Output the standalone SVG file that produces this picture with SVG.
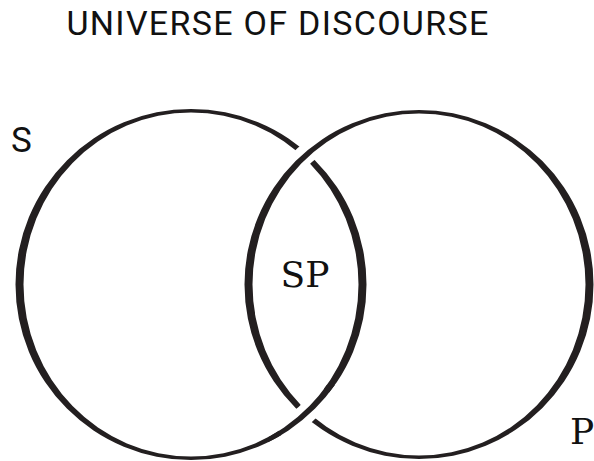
<svg xmlns="http://www.w3.org/2000/svg" width="594" height="461" viewBox="0 0 594 461">
  <style>
    .ring { fill: #231f20; fill-rule: evenodd; }
    .halo { fill: none; stroke: #ffffff; stroke-width: 20; }
    .title { font-family: Roboto, "Liberation Sans", sans-serif; font-size: 34px; letter-spacing: 1.3px; fill: #111111; }
    .lbl-sans { font-family: Roboto, "Liberation Sans", sans-serif; font-size: 35px; fill: #111111; }
    .lbl-serif { font-family: "DejaVu Serif", "Liberation Serif", serif; font-size: 36px; fill: #111111; }
  </style>
  <defs>
    <path id="ringS" d="M15.5 284.5 a175.5 175.5 0 1 0 351 0 a175.5 175.5 0 1 0 -351 0 Z M23.5 284.5 a167.5 172 0 1 0 335 0 a167.5 172 0 1 0 -335 0 Z"/>
    <path id="ringP" d="M244.5 284.5 a174.5 174.5 0 1 0 349 0 a174.5 174.5 0 1 0 -349 0 Z M252.5 284.5 a166.5 171 0 1 0 333 0 a166.5 171 0 1 0 -333 0 Z"/>
    <clipPath id="bottomCross">
      <rect x="268" y="385" width="75" height="65"/>
    </clipPath>
  </defs>
  <rect width="594" height="461" fill="#ffffff"/>
  <text class="title" x="278" y="35" text-anchor="middle">UNIVERSE OF DISCOURSE</text>
  <g id="circles">
    <g id="set-S">
      <use href="#ringS" class="ring"/>
    </g>
    <path class="halo" d="M283.2 178 A173 173 0 0 1 330.4 136.2"/>
    <g id="set-P">
      <use href="#ringP" class="ring"/>
    </g>
    <path class="halo" d="M327.3 391 A173 173 0 0 1 280.1 432.8" clip-path="url(#bottomCross)"/>
    <g id="set-S-over">
      <use href="#ringS" class="ring" clip-path="url(#bottomCross)"/>
    </g>
  </g>
  <g id="label-S"><text class="lbl-sans" x="11" y="152">S</text></g>
  <g id="label-SP"><text class="lbl-serif" x="305" y="287" text-anchor="middle">SP</text></g>
  <g id="label-P"><text class="lbl-serif" x="570" y="444">P</text></g>
</svg>
